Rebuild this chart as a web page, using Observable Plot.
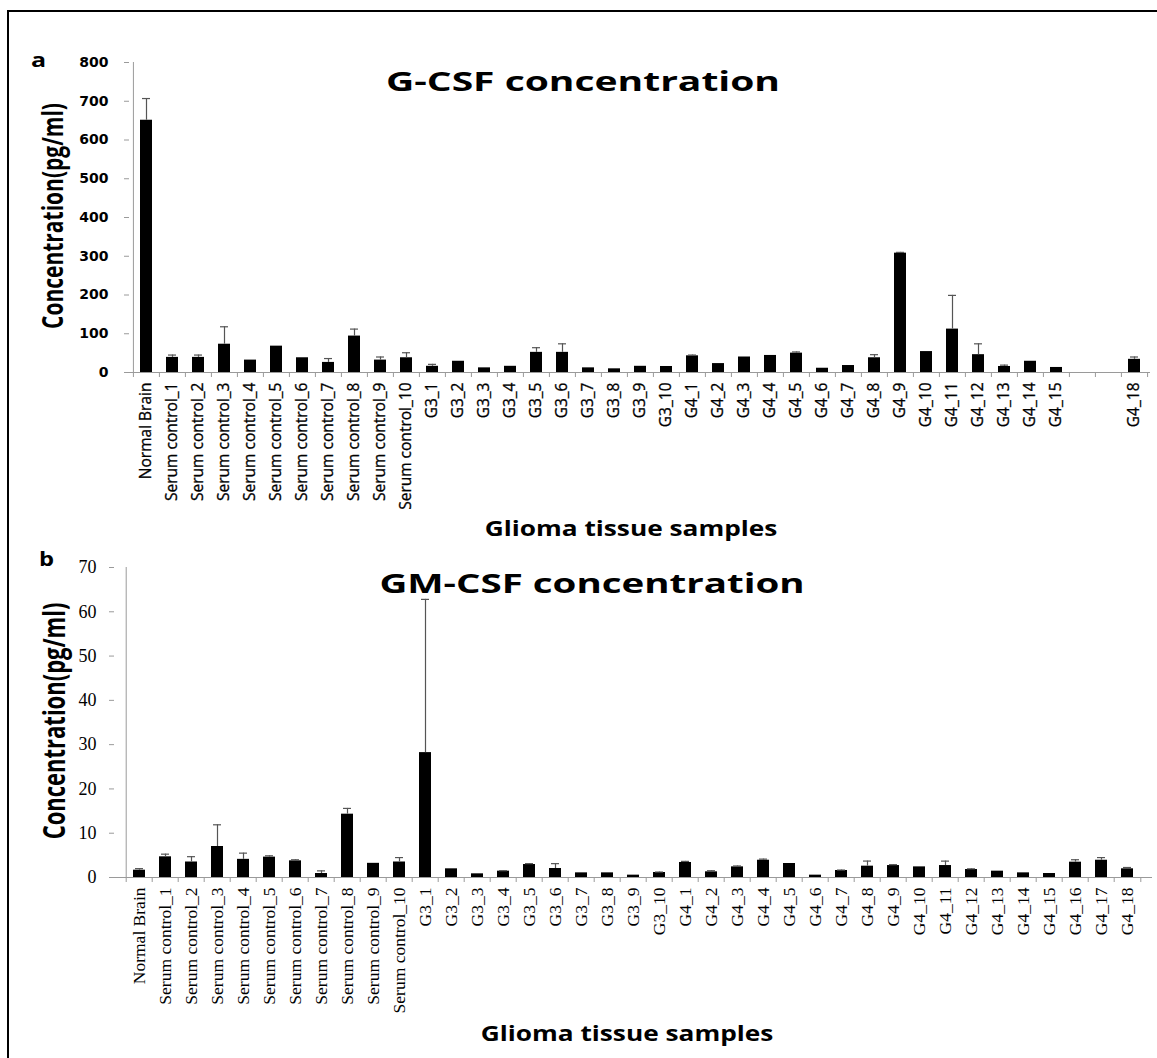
<!DOCTYPE html>
<html>
<head>
<meta charset="utf-8">
<script src="https://cdn.jsdelivr.net/npm/d3@7"></script>
<script src="https://cdn.jsdelivr.net/npm/@observablehq/plot@0.6"></script>
<style>
  html, body { margin: 0; padding: 0; background: #fff; }
  #page { position: relative; width: 1157px; height: 1058px; overflow: hidden; background: #fff; }
  #frame { position: absolute; left: 7px; top: 10px; right: -5px; bottom: -5px;
           border-top: 2.5px solid #000; border-left: 2.5px solid #000; }
  .panel { position: absolute; left: 0; }
  .t { position: absolute; white-space: nowrap; line-height: 1; font-family: "Open Sans", sans-serif;
       font-weight: 700; color: #000; }
  #panelA g[aria-label="x-axis tick label"] text { stroke: #000; stroke-width: 0.3px; }
</style>
</head>
<body>
<div id="page">
  <div id="frame"></div>
  <div id="panelA" class="panel" style="top:0px"></div>
  <div id="panelB" class="panel" style="top:540px"></div>
</div>
<script>
// ---------- data ----------
const samples = [
  "Normal Brain",
  "Serum control_1", "Serum control_2", "Serum control_3", "Serum control_4", "Serum control_5",
  "Serum control_6", "Serum control_7", "Serum control_8", "Serum control_9", "Serum control_10",
  "G3_1", "G3_2", "G3_3", "G3_4", "G3_5", "G3_6", "G3_7", "G3_8", "G3_9", "G3_10",
  "G4_1", "G4_2", "G4_3", "G4_4", "G4_5", "G4_6", "G4_7", "G4_8", "G4_9", "G4_10",
  "G4_11", "G4_12", "G4_13", "G4_14", "G4_15", "G4_16", "G4_17", "G4_18"
];

// G-CSF (pg/ml), panel a  (G4_16, G4_17 not shown)
const gcsf = [
  651, 39, 39, 73, 32, 68, 38, 26, 94, 32, 38,
  16, 29, 12, 16, 52, 52, 12, 9.5, 16, 15.5,
  43, 23, 40, 44, 50, 11, 18, 38, 308, 54, 112, 46, 15.5, 29, 13, null, null, 34
];
const gcsfErr = [
  56, 6, 6, 45, 0, 0, 0, 10, 18, 8, 13,
  5, 0, 0, 0, 12, 22, 0, 0, 0, 0,
  2, 0, 0, 0, 3, 0, 0, 8, 2, 0, 87, 28, 3.5, 0, 0, null, null, 6
];

// GM-CSF (pg/ml), panel b
const gmcsf = [
  1.65, 4.67, 3.5, 7.0, 4.1, 4.6, 3.76, 0.9, 14.3, 3.2, 3.5,
  28.2, 1.96, 0.83, 1.43, 2.93, 2.03, 1.05, 1.05, 0.53, 1.13,
  3.39, 1.28, 2.4, 3.9, 3.16, 0.53, 1.58, 2.56, 2.7, 2.4, 2.7, 1.8, 1.43, 1.05, 0.9, 3.46, 3.9, 1.96
];
const gmcsfErr = [
  0.35, 0.6, 1.2, 4.9, 1.4, 0.3, 0.24, 0.6, 1.3, 0, 1.0,
  34.6, 0, 0, 0.1, 0.2, 1.1, 0, 0, 0, 0.1,
  0.25, 0.25, 0.2, 0.25, 0, 0, 0.1, 1.15, 0.2, 0, 1.0, 0.16, 0, 0, 0, 0.55, 0.6, 0.3
];

const yTicksA = [0, 100, 200, 300, 400, 500, 600, 700, 800];
const yTicksB = [0, 10, 20, 30, 40, 50, 60, 70];

const titleA = "G-CSF concentration";
const titleB = "GM-CSF concentration";
const yTitle = "Concentration(pg/ml)";
const xTitle = "Glioma tissue samples";

// ---------- panel builder ----------
function panel(cfg) {
  const {values, errs, yMax, yTicks, width, height, mt, mb, ml, mr,
         tickFont, tickSize, tickWeight, tickPad, labFont, labSize, labPad} = cfg;
  const rows = samples.map((s, i) => ({s, v: values[i], e: errs[i]})).filter(d => d.v != null);
  const eRows = rows.filter(d => d.e > 0);
  const half = (width - ml - mr) / samples.length / 2;
  const grey = "#9a9a9a";
  return Plot.plot({
    width, height,
    marginTop: mt, marginBottom: mb, marginLeft: ml, marginRight: mr,
    style: {background: "transparent"},
    x: {domain: samples, paddingInner: 0.54, paddingOuter: 0.27, label: null},
    y: {domain: [0, yMax], label: null},
    marks: [
      // axis lines and category boundary ticks
      Plot.ruleY([0], {stroke: grey, strokeWidth: 1}),
      Plot.ruleX([samples[0]], {dx: -half, y1: 0, y2: yMax, stroke: grey, strokeWidth: 1}),
      Plot.ruleX(samples, {x: d => d, dx: -half, y1: 0, y2: 0, insetBottom: -5, stroke: grey}),
      Plot.ruleX([samples[samples.length - 1]], {dx: half, y1: 0, y2: 0, insetBottom: -5, stroke: grey}),
      // bars
      Plot.barY(rows, {x: "s", y: "v", fill: "#000"}),
      // error bars (upper)
      Plot.ruleX(eRows, {x: "s", y1: "v", y2: d => d.v + d.e, stroke: "#555", strokeWidth: 1.2}),
      Plot.tickY(eRows, {x: "s", y: d => d.v + d.e, stroke: "#555", strokeWidth: 1.2, insetLeft: 2, insetRight: 2}),
      // axes
      Plot.axisY({ticks: yTicks, tickSize, tickPadding: tickPad, stroke: grey, fill: "#000",
                  fontFamily: tickFont, fontSize: cfg.tickFontSize, fontWeight: tickWeight, label: null}),
      Plot.axisX({tickSize: 0, tickPadding: labPad, tickRotate: -90,
                  tickFormat: d => values[samples.indexOf(d)] == null ? "" : d,
                  fill: "#000", fontFamily: labFont, fontSize: labSize, label: null})
    ]
  });
}

const plotA = panel({
  values: gcsf, errs: gcsfErr, yMax: 800, yTicks: yTicksA,
  width: 1157, height: 540, mt: 62, mb: 168, ml: 129, mr: 7,
  tickFont: "DejaVu Sans", tickFontSize: 14, tickWeight: "bold", tickSize: 5, tickPad: 16,
  labFont: "Open Sans", labSize: 15.5, labPad: 10
});
document.getElementById("panelA").appendChild(plotA);

const plotB = panel({
  values: gmcsf, errs: gmcsfErr, yMax: 70, yTicks: yTicksB,
  width: 1157, height: 518, mt: 27, mb: 181, ml: 114, mr: 5,
  tickFont: "Liberation Serif", tickFontSize: 18, tickWeight: "normal", tickSize: 5, tickPad: 13,
  labFont: "Liberation Serif", labSize: 17.5, labPad: 10
});
document.getElementById("panelB").appendChild(plotB);

// ---------- text (titles, axis titles, panel letters) ----------
const page = document.getElementById("page");
function addText(str, {cx, baseline, size, sx = 1, rotate = false, cy, sy = 1, left}) {
  const el = document.createElement("div");
  el.className = "t";
  el.textContent = str;
  el.style.fontSize = size + "px";
  if (rotate) {
    el.style.left = cx + "px";
    el.style.top = cy + "px";
    el.style.transform = `translate(-50%,-50%) rotate(-90deg) scaleY(${sy})`;
  } else if (left != null) {
    el.style.left = left + "px";
    el.style.top = (baseline - 0.888 * size) + "px";
    el.style.transformOrigin = "0 0";
    el.style.transform = `scaleX(${sx})`;
  } else {
    el.style.left = cx + "px";
    el.style.top = (baseline - 0.888 * size) + "px";
    el.style.transform = `translateX(-50%) scaleX(${sx})`;
  }
  page.appendChild(el);
}

addText("a", {left: 31, baseline: 68, size: 20, sx: 1.25});
addText("b", {left: 39, baseline: 567, size: 19, sx: 1.25});
addText(titleA, {cx: 583, baseline: 91, size: 26, sx: 1.5});
addText(titleB, {cx: 592, baseline: 593, size: 26, sx: 1.48});
addText(yTitle, {rotate: true, cx: 53, cy: 216, size: 21, sy: 1.35});
addText(yTitle, {rotate: true, cx: 53, cy: 721, size: 22, sy: 1.35});
addText(xTitle, {cx: 631, baseline: 537, size: 21, sx: 1.25});
addText(xTitle, {cx: 627, baseline: 1042, size: 21, sx: 1.25});
</script>
</body>
</html>
